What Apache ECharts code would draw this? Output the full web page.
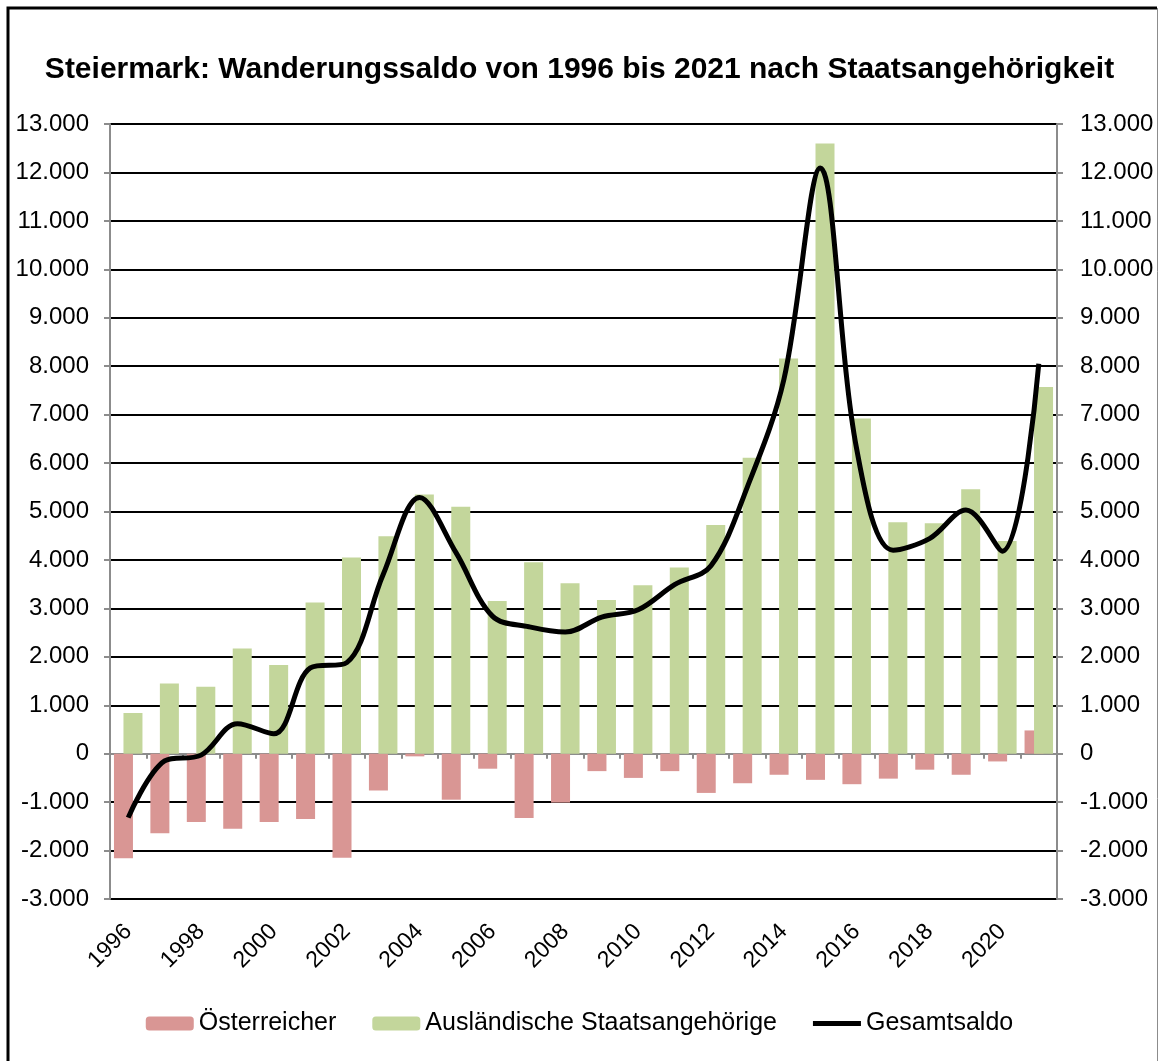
<!DOCTYPE html>
<html>
<head>
<meta charset="utf-8">
<script src="https://cdn.jsdelivr.net/npm/echarts@6/dist/echarts.min.js"></script>
<style>
  html, body { margin: 0; padding: 0; background: #fff; }
  #chart { width: 1159px; height: 1061px; }
</style>
</head>
<body>
<div id="chart"></div>
<script>
const years = ['1996', '1997', '1998', '1999', '2000', '2001', '2002', '2003', '2004', '2005', '2006', '2007', '2008',
  '2009', '2010', '2011', '2012', '2013', '2014', '2015', '2016', '2017', '2018', '2019', '2020', '2021'];
const oesterreicher = [-2160, -1640, -1410, -1550, -1410, -1350, -2150, -760, -55, -950, -310, -1330, -1010,
  -360, -500, -360, -810, -610, -435, -540, -630, -515, -330, -435, -160, 480];
const auslaender = [840, 1450, 1380, 2170, 1830, 3120, 4050, 4490, 5350, 5100, 3150, 3950, 3520,
  3175, 3480, 3845, 4720, 6110, 8160, 12600, 6920, 4780, 4760, 5460, 4390, 7570];
const gesamt = [-1320, -150, -30, 620, 410, 1770, 1880, 3700, 5290, 4150, 2840, 2620, 2510,
  2820, 2970, 3490, 3880, 5510, 7720, 12090, 6290, 4200, 4440, 5030, 4180, 8050];

const font = "'Liberation Sans', Arial, sans-serif";

function fmt(v) {
  if (v === 0) return '0';
  const s = Math.abs(v).toString().replace(/\B(?=(\d{3})+(?!\d))/g, '.');
  return (v < 0 ? '-' : '') + s;
}

const chart = echarts.init(document.getElementById('chart'));

const yBase = {
  type: 'value',
  min: -3000,
  max: 13000,
  interval: 1000,
  axisLine: { show: true, lineStyle: { color: '#8c8c8c', width: 2 } },
  axisTick: { show: true, length: 6, lineStyle: { color: '#8c8c8c', width: 2 } },
  axisLabel: { color: '#000', fontSize: 24, fontFamily: font, formatter: fmt }
};

chart.setOption({
  animation: false,
  backgroundColor: '#fff',
  title: {
    text: 'Steiermark: Wanderungssaldo von 1996 bis 2021 nach Staatsangehörigkeit',
    left: 'center',
    top: 50,
    textStyle: { fontSize: 30, fontWeight: 'bold', color: '#000', fontFamily: font }
  },
  legend: {
    top: 1006,
    left: 'center',
    itemWidth: 48,
    itemHeight: 14,
    itemGap: 36,
    textStyle: { fontSize: 25, color: '#000', fontFamily: font },
    data: [
      { name: 'Österreicher' },
      { name: 'Ausländische Staatsangehörige' },
      { name: 'Gesamtsaldo', icon: 'path://M0,0 H48 V5 H0 Z', itemStyle: { color: '#000' } }
    ]
  },
  grid: { left: 110, right: 102, top: 124, bottom: 162, containLabel: false },
  xAxis: [
    {
      type: 'category',
      data: years,
      axisLine: { onZero: true, lineStyle: { color: '#8c8c8c', width: 2 } },
      axisTick: { show: true, length: 5, lineStyle: { color: '#8c8c8c', width: 2 } },
      axisLabel: { show: false },
      splitLine: { show: false }
    },
    {
      type: 'category',
      data: years,
      position: 'bottom',
      axisLine: { show: false, onZero: false },
      axisTick: { show: false },
      axisLabel: {
        interval: 1,
        rotate: 45,
        margin: 29,
        color: '#000',
        fontSize: 23,
        fontFamily: font
      }
    }
  ],
  yAxis: [
    Object.assign({}, yBase, {
      position: 'left',
      axisLabel: Object.assign({}, yBase.axisLabel, { margin: 21 }),
      splitLine: { show: true, lineStyle: { color: '#000', width: 2 } }
    }),
    Object.assign({}, yBase, {
      position: 'right',
      axisLabel: Object.assign({}, yBase.axisLabel, { margin: 23 }),
      splitLine: { show: false }
    })
  ],
  series: [
    {
      name: 'Österreicher',
      type: 'bar',
      data: oesterreicher,
      barWidth: 19,
      barGap: '-50%',
      itemStyle: { color: '#D99694' }
    },
    {
      name: 'Ausländische Staatsangehörige',
      type: 'bar',
      data: auslaender,
      barWidth: 19,
      barGap: '-50%',
      itemStyle: { color: '#C3D69B' }
    },
    {
      name: 'Gesamtsaldo',
      type: 'line',
      data: gesamt,
      smooth: 0.35,
      symbol: 'none',
      z: 5,
      lineStyle: { color: '#000', width: 5 },
      itemStyle: { color: '#000' }
    }
  ],
  graphic: [
    {
      type: 'polyline',
      shape: { points: [[8, 1070], [8, 8], [1157, 8]] },
      style: { stroke: '#000', lineWidth: 3, fill: null },
      z: 100
    },
    {
      type: 'line',
      shape: { x1: 1157.5, y1: 8, x2: 1157.5, y2: 1070 },
      style: { stroke: '#8c8c8c', lineWidth: 1 },
      z: 100
    }
  ]
});
</script>
</body>
</html>
